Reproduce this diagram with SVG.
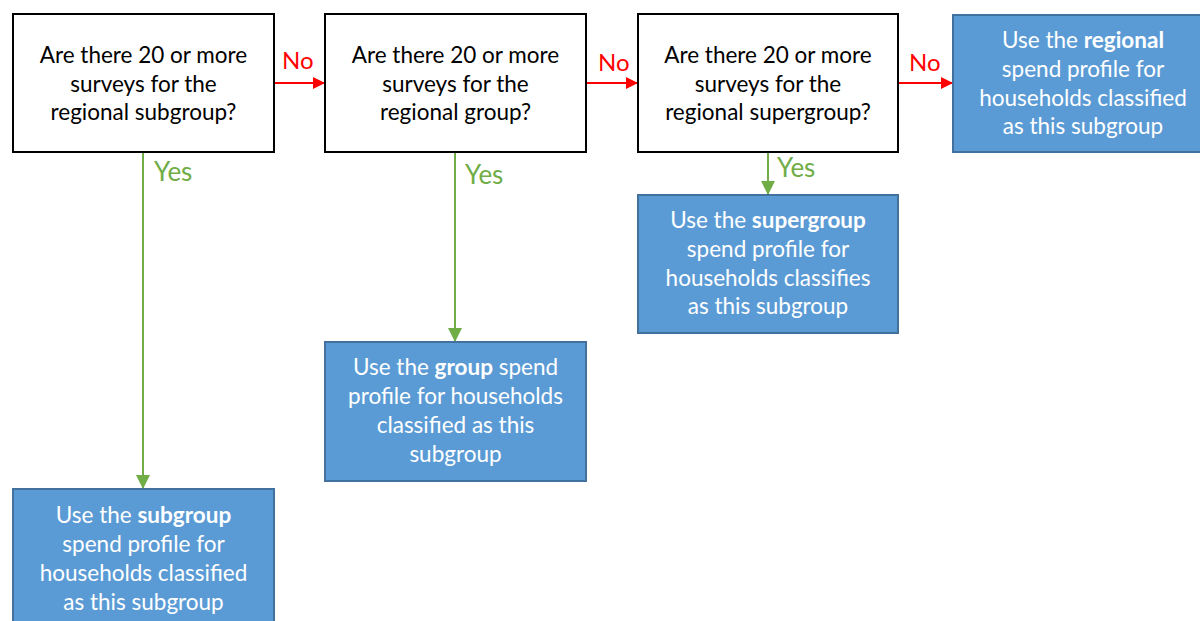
<svg xmlns="http://www.w3.org/2000/svg" width="1200" height="621" viewBox="0 0 1200 621">
<defs>
<marker id="ar" markerWidth="12" markerHeight="12" refX="11" refY="6" orient="auto" markerUnits="userSpaceOnUse"><path d="M0,0 L12,6 L0,12 Z" fill="#FF0000"/></marker>
<marker id="ag" markerWidth="14" markerHeight="14" refX="13" refY="7" orient="auto" markerUnits="userSpaceOnUse"><path d="M0,0 L14,7 L0,14 Z" fill="#70AD47"/></marker>
</defs>
<style>
.q{fill:#fff;stroke:#000;stroke-width:2}
.b{fill:#5B9BD5;stroke:#41719C;stroke-width:2}
text{font-family:Lato,"Open Sans","Liberation Sans",sans-serif;font-size:22.5px;text-anchor:middle}
.qt{fill:#000}
.bt{fill:#fff}
.bold{font-weight:bold}
.no{fill:#FF0000;text-anchor:start;font-size:24px}
.yes{fill:#70AD47;text-anchor:start;font-size:26px}
.r{stroke:#FF0000;stroke-width:2;fill:none}
.g{stroke:#70AD47;stroke-width:2;fill:none}
</style>
<rect width="1200" height="621" fill="#fff"/>
<g id="connectors">
<line class="r" x1="274" y1="83" x2="324" y2="83" marker-end="url(#ar)"/>
<line class="r" x1="587" y1="83" x2="637" y2="83" marker-end="url(#ar)"/>
<line class="r" x1="898" y1="83" x2="952" y2="83" marker-end="url(#ar)"/>
<line class="g" x1="143" y1="152" x2="143" y2="488" marker-end="url(#ag)"/>
<line class="g" x1="455" y1="152" x2="455" y2="341" marker-end="url(#ag)"/>
<line class="g" x1="768" y1="152" x2="768" y2="194" marker-end="url(#ag)"/>
<text class="no" x="282" y="69">No</text>
<text class="no" x="598" y="71">No</text>
<text class="no" x="909" y="71">No</text>
<text class="yes" x="154" y="181">Yes</text>
<text class="yes" x="465" y="184">Yes</text>
<text class="yes" x="777" y="177">Yes</text>
</g>
<g id="q1">
<rect class="q" x="13" y="14" width="261" height="138"/>
<text class="qt" x="143.5" y="63">Are there 20 or more</text>
<text class="qt" x="143.5" y="92">surveys for the</text>
<text class="qt" x="143.5" y="120">regional subgroup?</text>
</g>
<g id="q2">
<rect class="q" x="325" y="14" width="261" height="138"/>
<text class="qt" x="455.5" y="63">Are there 20 or more</text>
<text class="qt" x="455.5" y="92">surveys for the</text>
<text class="qt" x="455.5" y="120">regional group?</text>
</g>
<g id="q3">
<rect class="q" x="638" y="14" width="260" height="138"/>
<text class="qt" x="768" y="63">Are there 20 or more</text>
<text class="qt" x="768" y="92">surveys for the</text>
<text class="qt" x="768" y="120">regional supergroup?</text>
</g>
<g id="regional">
<rect class="b" x="953" y="15" width="261" height="137"/>
<text class="bt" x="1083" y="48">Use the <tspan class="bold">regional</tspan></text>
<text class="bt" x="1083" y="77">spend profile for</text>
<text class="bt" x="1083" y="106">households classified</text>
<text class="bt" x="1083" y="134">as this subgroup</text>
</g>
<g id="supergroup">
<rect class="b" x="638" y="195" width="260" height="138"/>
<text class="bt" x="768" y="228">Use the <tspan class="bold">supergroup</tspan></text>
<text class="bt" x="768" y="257">spend profile for</text>
<text class="bt" x="768" y="286">households classifies</text>
<text class="bt" x="768" y="314">as this subgroup</text>
</g>
<g id="group">
<rect class="b" x="325" y="342" width="261" height="139"/>
<text class="bt" x="455.5" y="375">Use the <tspan class="bold">group</tspan> spend</text>
<text class="bt" x="455.5" y="404">profile for households</text>
<text class="bt" x="455.5" y="433">classified as this</text>
<text class="bt" x="455.5" y="462">subgroup</text>
</g>
<g id="subgroup">
<rect class="b" x="13" y="489" width="261" height="140"/>
<text class="bt" x="143.5" y="523">Use the <tspan class="bold">subgroup</tspan></text>
<text class="bt" x="143.5" y="552">spend profile for</text>
<text class="bt" x="143.5" y="581">households classified</text>
<text class="bt" x="143.5" y="610">as this subgroup</text>
</g>
</svg>
